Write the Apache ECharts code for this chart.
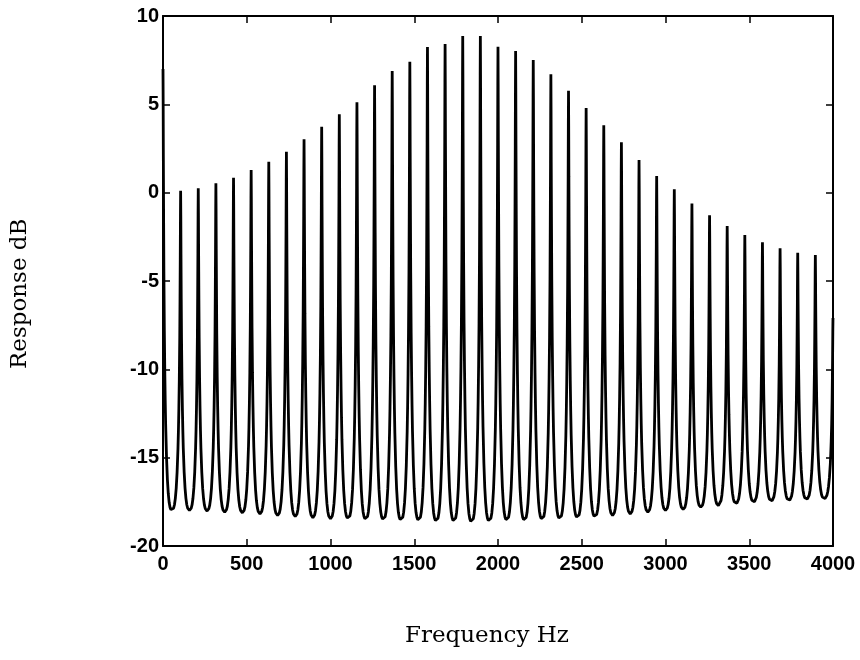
<!DOCTYPE html>
<html>
<head>
<meta charset="utf-8">
<title>Comb filter response</title>
<script src="https://cdn.jsdelivr.net/npm/echarts@6/dist/echarts.min.js"></script>
<style>
  html, body { margin: 0; padding: 0; background: #fff; }
  #chart { width: 860px; height: 660px; }
</style>
</head>
<body>
<div id="chart"></div>
<script>
// Spacing of the comb teeth along the frequency axis (Hz)
const toothSpacingHz = 105.26;

// Level of each tooth (dB), from 0 Hz up to 4000 Hz
const peakDb = [
  7.0, 0.11, 0.25, 0.53, 0.85, 1.28, 1.75, 2.32, 3.02, 3.73,
  4.44, 5.12, 6.08, 6.89, 7.41, 8.25, 8.42, 8.87, 8.87, 8.26,
  8.02, 7.51, 6.70, 5.77, 4.79, 3.81, 2.85, 1.85, 0.94, 0.19,
  -0.62, -1.28, -1.89, -2.40, -2.81, -3.15, -3.40, -3.53, -7.1
];

// Level of each notch between neighbouring teeth (dB)
const troughDb = [
  -17.99, -17.99, -18.02, -18.08, -18.12, -18.18, -18.27, -18.33, -18.40, -18.46,
  -18.46, -18.50, -18.52, -18.55, -18.56, -18.61, -18.61, -18.65, -18.61, -18.56,
  -18.56, -18.50, -18.46, -18.40, -18.36, -18.27, -18.18, -18.08, -17.99, -17.93,
  -17.80, -17.71, -17.61, -17.52, -17.46, -17.43, -17.37, -17.33
];

// Shape of one lobe: offset from a tooth (fraction of the spacing)
// and the height at that offset (0 = notch floor, 1 = tooth top)
const lobeOffset = [0, 0.01, 0.02, 0.035, 0.05, 0.075, 0.1, 0.125, 0.15, 0.2, 0.25, 0.3, 0.35, 0.4, 0.45, 0.5];
const lobeHeight = [1, 0.92, 0.80, 0.66, 0.54, 0.41, 0.32, 0.25, 0.195, 0.12, 0.07, 0.038, 0.018, 0.007, 0.002, 0];

// Axis ticks
const freqTicks = { min: 0, max: 4000, step: 500 };
const levelTicks = { min: -20, max: 10, step: 5 };

// Assemble the response curve tooth by tooth
function buildCurve() {
  const pts = [];
  const n = lobeOffset.length;
  for (let k = 0; k < peakDb.length; k++) {
    // rising flank from the notch on the left
    if (k > 0) {
      for (let i = n - 2; i > 0; i--) {
        const f = (k - lobeOffset[i]) * toothSpacingHz;
        const v = troughDb[k - 1] + (peakDb[k] - troughDb[k - 1]) * lobeHeight[i];
        pts.push([f, v]);
      }
    }
    pts.push([Math.min(k * toothSpacingHz, freqTicks.max), peakDb[k]]);
    // falling flank into the notch on the right
    if (k < troughDb.length) {
      for (let i = 1; i < n; i++) {
        const f = (k + lobeOffset[i]) * toothSpacingHz;
        const v = troughDb[k] + (peakDb[k] - troughDb[k]) * lobeHeight[i];
        pts.push([f, v]);
      }
    }
  }
  return pts.filter(p => p[0] >= 0 && p[0] <= freqTicks.max);
}

const chart = echarts.init(document.getElementById('chart'), null, { renderer: 'canvas' });

const tickFont = {
  color: '#000',
  fontFamily: '"Liberation Sans", Arial, sans-serif',
  fontWeight: 'bold',
  fontSize: 20,
  formatter: v => String(v)
};
const boxLine = { show: true, onZero: false, lineStyle: { color: '#000', width: 2 } };
const innerTick = { show: true, inside: true, length: 7, lineStyle: { color: '#000', width: 1.5 } };
const titleFont = '23px "DejaVu Serif", serif';

chart.setOption({
  animation: false,
  backgroundColor: '#fff',
  grid: { left: 163, right: 27, top: 16, bottom: 114, containLabel: false },
  xAxis: [
    {
      type: 'value', position: 'bottom',
      min: freqTicks.min, max: freqTicks.max, interval: freqTicks.step,
      axisLine: boxLine, axisTick: innerTick, splitLine: { show: false },
      axisLabel: Object.assign({ margin: 8 }, tickFont)
    },
    {
      type: 'value', position: 'top',
      min: freqTicks.min, max: freqTicks.max, interval: freqTicks.step,
      axisLine: boxLine, axisTick: innerTick, splitLine: { show: false },
      axisLabel: { show: false }
    }
  ],
  yAxis: [
    {
      type: 'value', position: 'left',
      min: levelTicks.min, max: levelTicks.max, interval: levelTicks.step,
      axisLine: boxLine, axisTick: innerTick, splitLine: { show: false },
      axisLabel: Object.assign({ margin: 4 }, tickFont)
    },
    {
      type: 'value', position: 'right',
      min: levelTicks.min, max: levelTicks.max, interval: levelTicks.step,
      axisLine: boxLine, axisTick: innerTick, splitLine: { show: false },
      axisLabel: { show: false }
    }
  ],
  graphic: [
    {
      type: 'text', left: 405, top: 625,
      style: { text: 'Frequency Hz', fill: '#000', font: titleFont }
    },
    {
      type: 'text', x: 9, y: 369, rotation: Math.PI / 2,
      style: { text: 'Response dB', fill: '#000', font: titleFont, verticalAlign: 'top' }
    }
  ],
  series: [
    {
      type: 'line',
      data: buildCurve(),
      showSymbol: false,
      clip: true,
      lineStyle: { color: '#000', width: 2.8 }
    }
  ]
});
</script>
</body>
</html>
